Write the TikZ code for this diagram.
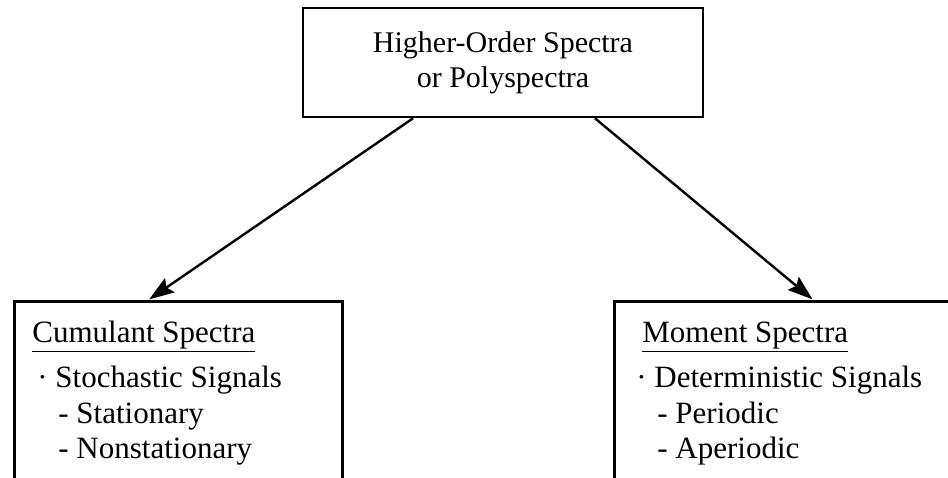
\documentclass[tikz,border=0pt]{standalone}
\usepackage{fontspec}
\setmainfont{Liberation Serif}
\usetikzlibrary{arrows.meta,positioning}

\begin{document}
\begin{tikzpicture}[x=1pt,y=-1pt,>={Stealth[length=25pt,width=17pt,inset=4pt]},thick,
    spec box/.style={draw,line width=2.6pt,rectangle,inner sep=0pt},
    spec text/.style={font=\fontsize{31}{36}\selectfont,inner sep=0pt,anchor=base west},
    spec arrow/.style={->,line width=2.4pt,shorten >=1pt}]

                \useasboundingbox (0,0) rectangle (948,478);
                \clip (0,0) rectangle (948,478);

                \node (hos) [spec box,minimum width=400pt,minimum height=109pt,align=center,
                    font=\fontsize{30}{35}\selectfont] at (503,62.5) {Higher-Order Spectra\\or Polyspectra};

                \node (cum) [spec box,anchor=north west,minimum width=328pt,minimum height=240pt] at (13,300) {};
                \node (mom) [spec box,anchor=north west,minimum width=360pt,minimum height=240pt] at (613,300) {};

                \node (cumhead) [spec text] at (32,343) {\underline{Cumulant Spectra}};
                \node (cumsig)  [spec text] at (37,387) {· Stochastic Signals};
                \node (cumsta)  [spec text] at (58,423) {- Stationary};
                \node (cumnon)  [spec text] at (58,458) {- Nonstationary};

                \node (momhead) [spec text] at (642,343) {\underline{Moment Spectra}};
                \node (momsig)  [spec text] at (636,387) {· Deterministic Signals};
                \node (momper)  [spec text] at (657,423) {- Periodic};
                \node (momape)  [spec text] at (657,458) {- Aperiodic};

                \draw[spec arrow] ([xshift=-90pt]hos.south) -- ([xshift=-30pt]cum.north);
                \draw[spec arrow] ([xshift=92pt]hos.south) -- ([xshift=19pt]mom.north);
\end{tikzpicture}
\end{document}
